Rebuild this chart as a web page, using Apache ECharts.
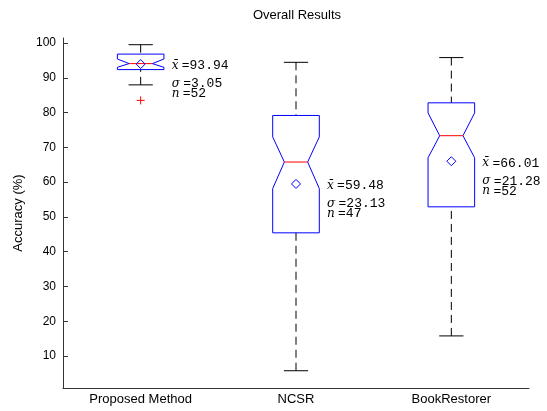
<!DOCTYPE html>
<html>
<head>
<meta charset="utf-8">
<script src="https://cdn.jsdelivr.net/npm/echarts@6/dist/echarts.min.js"></script>
<style>html,body{margin:0;padding:0;background:#fff}#c{width:547px;height:411px}</style>
</head>
<body>
<div id="c"></div>
<script>
const categories = ['Proposed Method', 'NCSR', 'BookRestorer'];
const whiskerLow = [87.96, 5.79, 15.8];
const q1 = [92.35, 45.43, 52.9];
const notchLow = [93.0, 58.15, 67.0];
const median = [94.07, 65.78, 73.35];
const notchHigh = [95.4, 73.0, 79.9];
const q3 = [96.8, 79.16, 82.8];
const whiskerHigh = [99.5, 94.44, 95.8];
const means = [93.94, 59.48, 66.01];
const stds = [3.05, 23.13, 21.28];
const counts = [52, 47, 52];
const outliers = [[0, 83.5]];
const yTicks = [10, 20, 30, 40, 50, 60, 70, 80, 90, 100];

const boxData = categories.map((c, i) => [i, whiskerLow[i], q1[i], notchLow[i], median[i], notchHigh[i], q3[i], whiskerHigh[i], means[i], stds[i], counts[i]]);

const BLUE = '#0000ff', RED = '#ff0000';
const SANS = '"Liberation Sans", Arial, sans-serif';

function renderBox(params, api) {
  const idx = api.value(0);
  const band = api.size([1, 0])[0];
  const hw = band * 0.15;
  const inset = hw * 0.5;
  const capHw = hw * 0.52;
  const cx = api.coord([idx, 0])[0];
  const Y = v => api.coord([idx, v])[1];
  const wl = Y(api.value(1)), b1 = Y(api.value(2)), nl = Y(api.value(3)), md = Y(api.value(4)),
        nh = Y(api.value(5)), b3 = Y(api.value(6)), wh = Y(api.value(7)), mn = Y(api.value(8));
  const sd = api.value(9), n = api.value(10), mv = api.value(8);
  const children = [];
  const dashStyle = { stroke: '#000', lineWidth: 1, lineDash: [8, 5] };
  children.push({ type: 'line', shape: { x1: cx, y1: wh, x2: cx, y2: b3 }, style: dashStyle });
  children.push({ type: 'line', shape: { x1: cx, y1: wl, x2: cx, y2: b1 }, style: dashStyle });
  children.push({ type: 'line', shape: { x1: cx - capHw, y1: wh, x2: cx + capHw, y2: wh }, style: { stroke: '#000', lineWidth: 1 } });
  children.push({ type: 'line', shape: { x1: cx - capHw, y1: wl, x2: cx + capHw, y2: wl }, style: { stroke: '#000', lineWidth: 1 } });
  children.push({
    type: 'polygon',
    shape: { points: [[cx - hw, b3], [cx + hw, b3], [cx + hw, nh], [cx + hw - inset, md], [cx + hw, nl], [cx + hw, b1],
                      [cx - hw, b1], [cx - hw, nl], [cx - hw + inset, md], [cx - hw, nh]] },
    style: { fill: 'none', stroke: BLUE, lineWidth: 1 }
  });
  children.push({ type: 'line', shape: { x1: cx - hw + inset, y1: md, x2: cx + hw - inset, y2: md }, style: { stroke: RED, lineWidth: 1 } });
  children.push({
    type: 'polygon',
    shape: { points: [[cx, mn - 4.5], [cx + 4.5, mn], [cx, mn + 4.5], [cx - 4.5, mn]] },
    style: { fill: 'none', stroke: BLUE, lineWidth: 1 }
  });
  const tx = cx + 31;
  const rich = {
    s: { fontFamily: '"DejaVu Serif", serif', fontStyle: 'italic', fontSize: 12, fill: '#000' },
    v: { fontFamily: '"Liberation Mono", monospace', fontSize: 13, fill: '#000' }
  };
  children.push({ type: 'text', style: { x: tx, y: mn + 2, text: '{s|x\u0304} {v|=' + mv.toFixed(2) + '}', rich: rich, verticalAlign: 'middle', fill: '#000' } });
  children.push({ type: 'text', style: { x: tx, y: mn + 20, text: '{s|\u03c3} {v|=' + sd.toFixed(2) + '}', rich: rich, verticalAlign: 'middle', fill: '#000' } });
  children.push({ type: 'text', style: { x: tx, y: mn + 30, text: '{s|n} {v|=' + n + '}', rich: rich, verticalAlign: 'middle', fill: '#000' } });
  return { type: 'group', children: children };
}

function renderOutlier(params, api) {
  const p = api.coord([api.value(0), api.value(1)]);
  const r = 4;
  return { type: 'group', children: [
    { type: 'line', shape: { x1: p[0] - r, y1: p[1], x2: p[0] + r, y2: p[1] }, style: { stroke: RED, lineWidth: 1 } },
    { type: 'line', shape: { x1: p[0], y1: p[1] - r, x2: p[0], y2: p[1] + r }, style: { stroke: RED, lineWidth: 1 } }
  ]};
}

const chart = echarts.init(document.getElementById('c'), null, { renderer: 'canvas' });
chart.setOption({
  animation: false,
  backgroundColor: '#fff',
  title: {
    text: 'Overall Results', left: 292, top: 4, textAlign: 'center',
    textStyle: { fontFamily: SANS, fontSize: 13, fontWeight: 'normal', color: '#000' }
  },
  grid: { left: 63, right: 18, top: 38, bottom: 23 },
  xAxis: {
    type: 'category', data: categories, boundaryGap: true,
    axisLine: { lineStyle: { color: '#333', width: 1 } },
    axisTick: { inside: true, alignWithLabel: true, length: 5, lineStyle: { color: '#333' } },
    axisLabel: { color: '#000', fontFamily: SANS, fontSize: 13, margin: 5 },
    splitLine: { show: false }
  },
  yAxis: {
    type: 'value', min: 0.83, max: 101.43,
    name: 'Accuracy (%)', nameLocation: 'middle', nameGap: 35,
    nameTextStyle: { color: '#000', fontFamily: SANS, fontSize: 13 },
    axisLine: { show: true, lineStyle: { color: '#333', width: 1 } },
    axisTick: { show: true, inside: true, length: 5, customValues: yTicks, lineStyle: { color: '#333' } },
    axisLabel: { color: '#000', fontFamily: SANS, fontSize: 12, margin: 7, customValues: yTicks },
    splitLine: { show: false }
  },
  series: [
    { type: 'custom', renderItem: renderBox, data: boxData, encode: { x: 0, y: [1, 7] }, clip: false, z: 3 },
    { type: 'custom', renderItem: renderOutlier, data: outliers, encode: { x: 0, y: 1 }, z: 3 }
  ]
});
</script>
</body>
</html>
